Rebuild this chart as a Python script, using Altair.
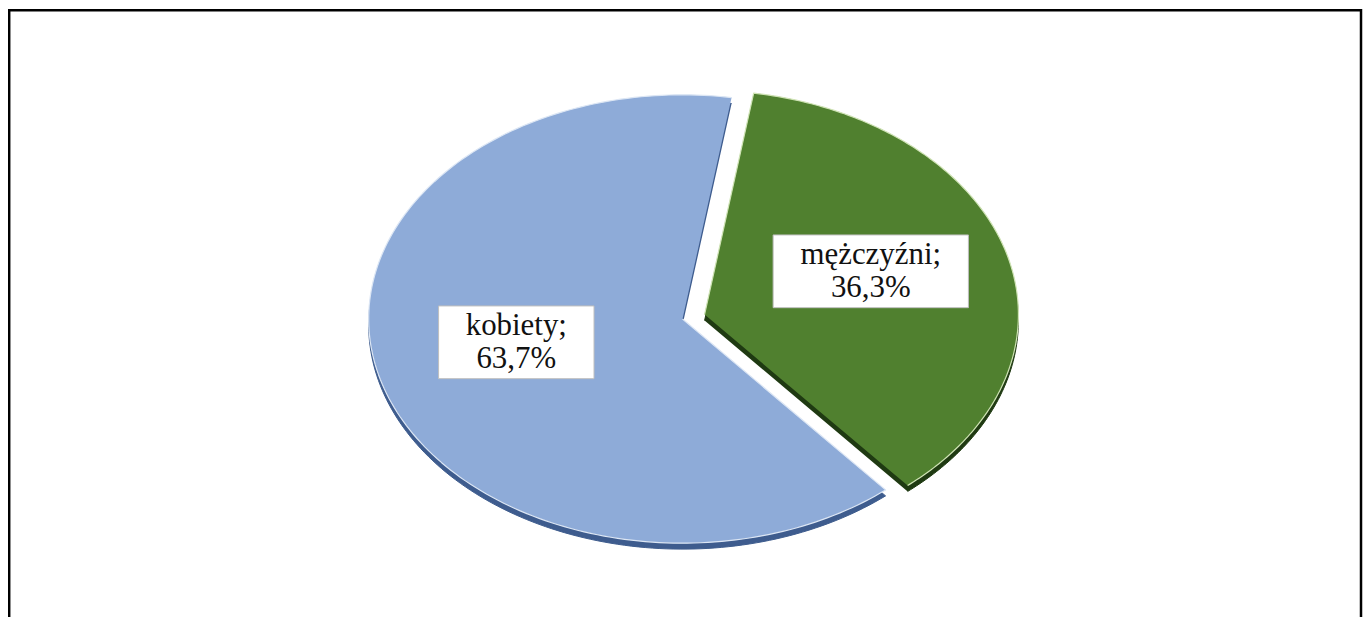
import altair as alt
import pandas as pd

# ---- data ----
categories = ["kobiety", "mężczyźni"]
values = [63.7, 36.3]

# ---- styling / layout ----
face_colors = ["#8EABD8", "#50802F"]
side_colors = ["#3E5C8E", "#1F3A12"]
edge_colors = ["#DCE6F4", "#CFE3B5"]

W, H = 1360, 610          # whole drawing (pixels)
CX, CY = 677, 311         # pie centre (svg pixels)
RX, RY = 315, 225         # ellipse radii (tilted pie)
START = "PI*9/180"        # rotation of first slice
DEPTH = 6                 # 3-D thickness in pixels
N = 180                   # arc resolution
LABEL_R = 0.55
LABEL_DY = -10

df = pd.DataFrame({"category": categories, "value": values})

xs = alt.Scale(domain=[0, W], range=[0, W], nice=False, zero=False)
ys = alt.Scale(domain=[H, 0], nice=False, zero=False)
fill_scale = alt.Scale(domain=categories, range=face_colors)
side_scale = alt.Scale(domain=categories, range=side_colors)
edge_scale = alt.Scale(domain=categories, range=edge_colors)

base = (
    alt.Chart(df)
    .transform_window(
        cum="sum(value)",
        frame=[None, 0],
        sort=[alt.SortField("category", order="descending")],
    )
    .transform_joinaggregate(total="sum(value)")
    .transform_calculate(
        a0=f"2*PI*(datum.cum-datum.value)/datum.total + {START}",
        a1=f"2*PI*datum.cum/datum.total + {START}",
    )
    .transform_calculate(
        mid="(datum.a0+datum.a1)/2",
        ex="datum.category == 'mężczyźni' ? 0.073 : 0",
    )
    .transform_calculate(
        ox=f"{CX} + datum.ex*sin(datum.mid)*{RX}",
        oy=f"{CY} - datum.ex*cos(datum.mid)*{RY}",
    )
)

shape = (
    base.transform_calculate(idx=f"sequence(0, {N + 2})")
    .transform_flatten(["idx"])
    .transform_calculate(ang=f"datum.a0 + (datum.idx-1)/{N}*(datum.a1-datum.a0)")
    .transform_calculate(
        px=f"datum.idx == 0 ? datum.ox : datum.ox + sin(datum.ang)*{RX}",
        py=f"datum.idx == 0 ? datum.oy : datum.oy - cos(datum.ang)*{RY}",
    )
    .transform_calculate(pyd=f"datum.py + {DEPTH}")
)

sides = shape.mark_line(filled=True, strokeWidth=1, strokeJoin="round").encode(
    x=alt.X("px:Q", scale=xs, axis=None),
    y=alt.Y("pyd:Q", scale=ys, axis=None),
    fill=alt.Fill("category:N", scale=side_scale, legend=None),
    stroke=alt.Stroke("category:N", scale=side_scale, legend=None),
    order=alt.Order("idx:Q"),
)

faces = shape.mark_line(filled=True, strokeWidth=1.2, strokeJoin="round").encode(
    x=alt.X("px:Q", scale=xs, axis=None),
    y=alt.Y("py:Q", scale=ys, axis=None),
    fill=alt.Fill("category:N", scale=fill_scale, legend=None),
    stroke=alt.Stroke("category:N", scale=edge_scale, legend=None),
    order=alt.Order("idx:Q"),
)

labels = base.transform_calculate(
    lx=f"datum.ox + {LABEL_R}*sin(datum.mid)*{RX}",
    ly=f"datum.oy - {LABEL_R}*cos(datum.mid)*{RY} + ({LABEL_DY})",
    line1="datum.category + ';'",
    label="datum.category + ';\\n' + replace(format(datum.value, '.1f'), '.', ',') + '%'",
).transform_calculate(
    hw="(20*length(datum.line1) - 4)/2",
).transform_calculate(
    bx0="datum.lx - datum.hw",
    bx1="datum.lx + datum.hw",
    by0="datum.ly - 36.5",
    by1="datum.ly + 36.5",
)

boxes = labels.mark_rect(fill="white", stroke="#BFBFBF", strokeWidth=1).encode(
    x=alt.X("bx0:Q", scale=xs, axis=None),
    x2="bx1:Q",
    y=alt.Y("by0:Q", scale=ys, axis=None),
    y2="by1:Q",
)

texts = labels.mark_text(
    font="Liberation Serif, Times New Roman, serif",
    fontSize=31,
    lineHeight=33,
    lineBreak="\n",
    align="center",
    baseline="middle",
    dy=-16,
    color="#111111",
).encode(
    x=alt.X("lx:Q", scale=xs, axis=None),
    y=alt.Y("ly:Q", scale=ys, axis=None),
    text="label:N",
)

dummy = alt.Chart(pd.DataFrame({"k": [0]}))
frame_top = dummy.mark_rule(color="black", strokeWidth=2.5).encode(
    x=alt.value(0), x2=alt.value(W - 1), y=alt.value(1.2)
)
frame_left = dummy.mark_rule(color="black", strokeWidth=2.5).encode(
    x=alt.value(1.2), y=alt.value(0), y2=alt.value(H)
)
frame_right = dummy.mark_rule(color="black", strokeWidth=2.5).encode(
    x=alt.value(W - 2), y=alt.value(0), y2=alt.value(H)
)

chart = (
    alt.layer(sides, faces, boxes, texts, frame_top, frame_left, frame_right)
    .resolve_scale(fill="independent", stroke="independent")
    .properties(
        width=W,
        height=H,
        padding=0,
        autosize=alt.AutoSizeParams(type="none"),
        background="white",
    )
    .configure_view(stroke=None)
)

chart.save("out.html", embed_options={"renderer": "svg", "actions": False})
